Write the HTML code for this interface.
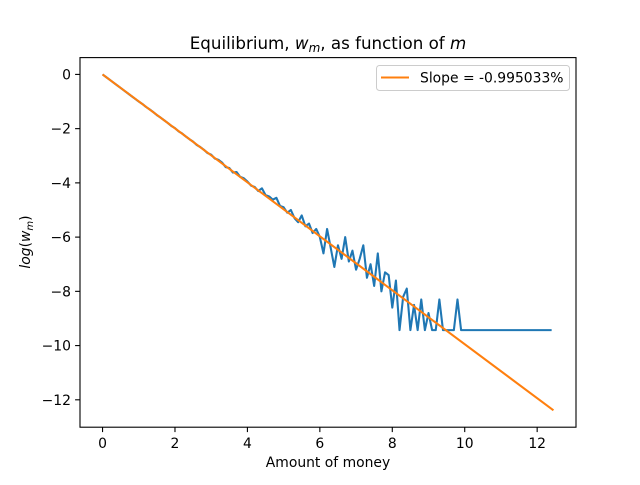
<!DOCTYPE html>
<html><head><meta charset="utf-8"><style>
body{margin:0;background:#fff}
text{font-family:"DejaVu Sans","Liberation Sans",sans-serif;fill:#000}
</style></head><body>
<svg id="chart" width="640" height="480" xmlns="http://www.w3.org/2000/svg">
<rect width="640" height="480" fill="#fff"/>
<g id="plot"></g>
</svg>
<script>
const wmValues = [0,-0.1,-0.2,-0.3,-0.4,-0.5,-0.6,-0.7,-0.8,-0.9,-1.0,-1.09,-1.2,-1.29,-1.39,-1.5,-1.59,-1.69,-1.79,-1.9,-1.98,-2.1,-2.18,-2.29,-2.39,-2.48,-2.6,-2.68,-2.78,-2.9,
-2.96,-3.1,-3.15,-3.25,-3.42,-3.45,-3.62,-3.6,-3.78,-3.83,
-3.95,-4.1,-4.15,-4.3,-4.2,-4.45,-4.5,-4.62,-4.55,-4.85,
-4.9,-5.1,-5.0,-5.3,-5.45,-5.2,-5.6,-5.5,-5.85,-5.7,
-6.0,-6.6,-5.7,-6.4,-7.1,-6.3,-6.8,-6.0,-6.9,-6.5,
-7.2,-6.8,-6.3,-7.5,-7.0,-7.8,-6.6,-8.0,-7.3,-7.4,
-8.6,-7.6,-9.43,-8.2,-7.9,-9.43,-8.5,-9.43,-8.3,-9.43,
-8.8,-9.43,-9.43,-8.3,-9.43,-9.43,-9.43,-9.43,-8.3,-9.43,
-9.43,-9.43,-9.43,-9.43,-9.43,-9.43,-9.43,-9.43,-9.43,-9.43,-9.43,-9.43,-9.43,-9.43,-9.43,-9.43,-9.43,-9.43,-9.43,-9.43,-9.43,-9.43,-9.43,-9.43,-9.43];
const xStep = 0.1;
const slope = -0.995033;
const fitRange = [0, 12.45];
const xTicks = [0,2,4,6,8,10,12];
const yTicks = [0,-2,-4,-6,-8,-10,-12];

const L=80,R=576,T=57.6,B=427.2;
const xmin=-0.6225,xmax=13.0725,ymin=-13.01,ymax=0.62;
const sx=v=>L+(v-xmin)/(xmax-xmin)*(R-L);
const sy=v=>B-(v-ymin)/(ymax-ymin)*(B-T);
const g=document.getElementById('plot');
const NS='http://www.w3.org/2000/svg';
function mk(tag,attrs,parent){const e=document.createElementNS(NS,tag);for(const k in attrs)e.setAttribute(k,attrs[k]);(parent||g).appendChild(e);return e;}

let d=wmValues.map((v,i)=>(i?'L':'M')+sx(i*xStep).toFixed(2)+','+sy(v).toFixed(2)).join('');
let p=mk('path',{d:d,fill:'none',stroke:'#1f77b4','stroke-width':2.08,'stroke-linejoin':'round'});


let f=mk('line',{x1:sx(fitRange[0]),y1:sy(slope*fitRange[0]),x2:sx(fitRange[1]),y2:sy(slope*fitRange[1]),stroke:'#ff7f0e','stroke-width':2.08});



let fr=mk('rect',{x:L,y:T,width:R-L,height:B-T,fill:'none',stroke:'#000','stroke-width':1.1});



xTicks.forEach(t=>{const x=sx(t);
 let tk=mk('line',{x1:x,y1:B,x2:x,y2:B+4.9,stroke:'#000','stroke-width':1.1});
 
 
 let tx=mk('text',{x:x,y:B+21,'text-anchor':'middle','font-size':13.9});tx.textContent=t;
 
 
});
yTicks.forEach(t=>{const y=sy(t);
 let tk=mk('line',{x1:L-4.9,y1:y,x2:L,y2:y,stroke:'#000','stroke-width':1.1});
 
 
 let tx=mk('text',{x:L-9,y:y+5,'text-anchor':'end','font-size':13.9});tx.textContent=(t<0?'\u2212'+(-t):t);
 
 
});
</script>
<svg width="640" height="480" style="position:absolute;left:0;top:0" xmlns="http://www.w3.org/2000/svg">
<text x="328" y="49" text-anchor="middle" font-size="16.7">Equilibrium, <tspan font-style="italic">w</tspan><tspan font-style="italic" font-size="12" dy="3">m</tspan><tspan dy="-3">, as function of </tspan><tspan font-style="italic">m</tspan></text>
<text x="328" y="467" text-anchor="middle" font-size="13.9">Amount of money</text>
<text transform="translate(30,242) rotate(-90)" text-anchor="middle" font-size="13.9"><tspan font-style="italic">log</tspan>(<tspan font-style="italic">w</tspan><tspan font-style="italic" font-size="10" dy="3">m</tspan><tspan dy="-3">)</tspan></text>
<g>
<rect x="376.5" y="65.5" width="193" height="25" rx="3" fill="#fff" stroke="#ccc" stroke-width="1"/>
<line x1="381" y1="77.5" x2="409" y2="77.5" stroke="#ff7f0e" stroke-width="2.08"/>
<text x="420" y="82.5" font-size="13.9">Slope = -0.995033%</text>
</g>
</svg>
</body></html>
